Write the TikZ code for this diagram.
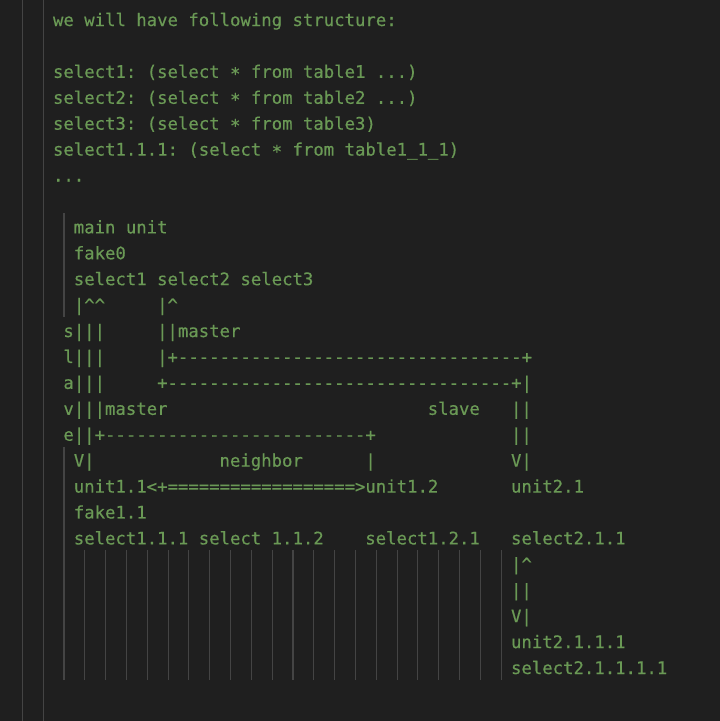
\documentclass[tikz,border=0pt]{standalone}
\usepackage{fontspec}
\setmonofont{DejaVu Sans Mono}[FakeBold=0.4]
\definecolor{bg}{HTML}{1F1F1F}
\definecolor{code}{HTML}{6A9955}
\definecolor{guide}{HTML}{444444}
\newcommand\rptchar[2]{\foreach \ii in {1,...,#1}{#2}}
\newcommand\lowstar{\raisebox{-0.22ex}{*}}
\newcommand\txtat[4]{\node[txt] (#1) at ({53+#3*10.41},{26+#2*25.92}) {#4};}
\tikzset{
  txt/.style={anchor=base west, inner sep=0pt, outer sep=0pt, text=code,
              font=\ttfamily\fontsize{17.3}{20}\selectfont},
  guideline/.style={draw=guide, line width=1.1pt}
}
\begin{document}
\begin{tikzpicture}[x=1pt,y=-1pt]
\path[fill=bg, use as bounding box] (0,0) rectangle (720,721);
% editor indent guides
\draw[guideline] (22.5,0) -- (22.5,721);
\draw[guideline] (43.5,0) -- (43.5,721);
\draw[guideline] (64,213.4) -- (64,317.1);
\draw[guideline] (64,446.6) -- (64,680);
\foreach \k in {1,...,21}{
  \draw[guideline] ({64+20.82*\k},550.3) -- ({64+20.82*\k},680);
}
% text lines
\txtat{r0}{0}{0}{we will have following structure:}
\txtat{r2}{2}{0}{select1: (select \lowstar{} from table1 ...)}
\txtat{r3}{3}{0}{select2: (select \lowstar{} from table2 ...)}
\txtat{r4}{4}{0}{select3: (select \lowstar{} from table3)}
\txtat{r5}{5}{0}{select1.1.1: (select \lowstar{} from table1\_1\_1)}
\txtat{r6}{6}{0}{...}
\txtat{r8}{8}{2}{main unit}
\txtat{r9}{9}{2}{fake0}
\txtat{r10}{10}{2}{select1 select2 select3}
\txtat{r11a}{11}{2}{|\textasciicircum\textasciicircum}
\txtat{r11b}{11}{10}{|\textasciicircum}
\txtat{r12a}{12}{1}{s|||}
\txtat{r12b}{12}{10}{||master}
\txtat{r13a}{13}{1}{l|||}
\txtat{r13b}{13}{10}{|+\rptchar{33}{-}+}
\txtat{r14a}{14}{1}{a|||}
\txtat{r14b}{14}{10}{+\rptchar{33}{-}+|}
\txtat{r15a}{15}{1}{v|||master}
\txtat{r15b}{15}{36}{slave}
\txtat{r15c}{15}{44}{||}
\txtat{r16a}{16}{1}{e||+\rptchar{25}{-}+}
\txtat{r16b}{16}{44}{||}
\txtat{r17a}{17}{2}{V|}
\txtat{r17b}{17}{16}{neighbor}
\txtat{r17c}{17}{30}{|}
\txtat{r17d}{17}{44}{V|}
\txtat{r18a}{18}{2}{unit1.1<+\rptchar{18}{=}>unit1.2}
\txtat{r18b}{18}{44}{unit2.1}
\txtat{r19}{19}{2}{fake1.1}
\txtat{r20a}{20}{2}{select1.1.1 select 1.1.2}
\txtat{r20b}{20}{30}{select1.2.1}
\txtat{r20c}{20}{44}{select2.1.1}
\txtat{r21}{21}{44}{|\textasciicircum}
\txtat{r22}{22}{44}{||}
\txtat{r23}{23}{44}{V|}
\txtat{r24}{24}{44}{unit2.1.1.1}
\txtat{r25}{25}{44}{select2.1.1.1.1}
\end{tikzpicture}
\end{document}
